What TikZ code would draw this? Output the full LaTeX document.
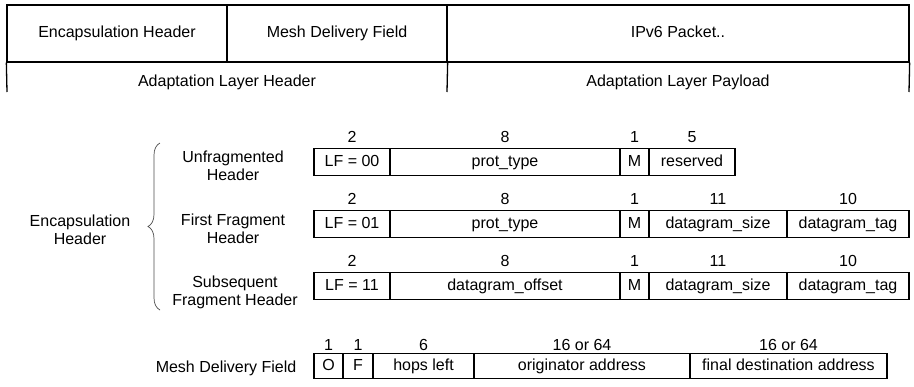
\documentclass[tikz,border=0pt]{standalone}
\usepackage{fontspec}
\setmainfont{Liberation Sans}
\usetikzlibrary{decorations.pathreplacing}
\begin{document}
\begin{tikzpicture}[x=1pt,y=-1pt, font=\fontsize{16}{18}\selectfont,
  box/.style={draw, line width=1.3pt, inner sep=0pt, text height=11.5pt, text depth=3.4pt},
  fld/.style={draw, line width=1.2pt, inner sep=0pt, minimum height=27pt, text height=11.5pt, text depth=3.4pt},
  mfld/.style={fld, minimum height=25pt},
  num/.style={inner sep=0pt},
  lbl/.style={align=center, inner sep=0pt},
  rule/.style={line width=1.3pt},
  bracestyle/.style={draw=black!70, line width=0.7pt, decorate, decoration={brace, amplitude=12pt}}]
\useasboundingbox (0,0) rectangle (914,386);

% top packet
\node[box, minimum width=220pt, minimum height=57pt] (enc) at (117,33.5) {Encapsulation Header};
\node[box, minimum width=220pt, minimum height=57pt] (mdf) at (337,33.5) {Mesh Delivery Field};
\node[box, minimum width=462pt, minimum height=57pt] (ipv) at (678,33.5) {IPv6 Packet..};
\coordinate (l1) at (7,92);
\coordinate (l2) at (447,92);
\coordinate (l3) at (909,92);
\draw[rule] (enc.south west) -- (l1);
\draw[rule] (mdf.south east) -- (l2);
\draw[rule] (ipv.south east) -- (l3);
\node (alh) at (227,82) {Adaptation Layer Header};
\node (alp) at (678,82) {Adaptation Layer Payload};

% brace and labels
\coordinate (bb) at (160,310);
\coordinate (bt) at (160,143);
\draw[bracestyle] (bb) -- (bt);
\node[lbl] (ench) at (80,230) {Encapsulation\\Header};
\node[lbl] (unfl) at (233,166) {Unfragmented\\Header};
\node[lbl] (ffl) at (233,229) {First Fragment\\Header};
\node[lbl] (sfl) at (235,292) {Subsequent\\Fragment Header};
\node[lbl] (mdl) at (226,368) {Mesh Delivery Field};

% row 1
\node[fld, minimum width=76pt] (a1) at (352,162) {LF = 00};
\node[fld, minimum width=230pt] (a2) at (505,162) {prot\_type};
\node[fld, minimum width=29pt] (a3) at (634.5,162) {M};
\node[fld, minimum width=86pt] (a4) at (692,162) {reserved};
\node[num] (na1) at (352,137) {2};
\node[num] (na2) at (505,137) {8};
\node[num] (na3) at (634.5,137) {1};
\node[num] (na4) at (692,137) {5};

% row 2
\node[fld, minimum width=76pt] (b1) at (352,224) {LF = 01};
\node[fld, minimum width=230pt] (b2) at (505,224) {prot\_type};
\node[fld, minimum width=29pt] (b3) at (634.5,224) {M};
\node[fld, minimum width=138pt] (b4) at (718,224) {datagram\_size};
\node[fld, minimum width=122pt] (b5) at (848,224) {datagram\_tag};
\node[num] (nb1) at (352,199) {2};
\node[num] (nb2) at (505,199) {8};
\node[num] (nb3) at (634.5,199) {1};
\node[num] (nb4) at (718,199) {11};
\node[num] (nb5) at (848,199) {10};

% row 3
\node[fld, minimum width=76pt] (c1) at (352,286) {LF = 11};
\node[fld, minimum width=230pt] (c2) at (505,286) {datagram\_offset};
\node[fld, minimum width=29pt] (c3) at (634.5,286) {M};
\node[fld, minimum width=138pt] (c4) at (718,286) {datagram\_size};
\node[fld, minimum width=122pt] (c5) at (848,286) {datagram\_tag};
\node[num] (nc1) at (352,261) {2};
\node[num] (nc2) at (505,261) {8};
\node[num] (nc3) at (634.5,261) {1};
\node[num] (nc4) at (718,261) {11};
\node[num] (nc5) at (848,261) {10};

% mesh row
\node[mfld, minimum width=29pt] (d1) at (328.5,366) {O};
\node[mfld, minimum width=30pt] (d2) at (358,366) {F};
\node[mfld, minimum width=101pt] (d3) at (423.5,366) {hops left};
\node[mfld, minimum width=216pt] (d4) at (582,366) {originator address};
\node[mfld, minimum width=197pt] (d5) at (788.5,366) {final destination address};
\node[num] (nd1) at (328.5,345) {1};
\node[num] (nd2) at (358,345) {1};
\node[num] (nd3) at (423.5,345) {6};
\node[num] (nd4) at (582,345) {16 or 64};
\node[num] (nd5) at (788.5,345) {16 or 64};
\end{tikzpicture}
\end{document}
